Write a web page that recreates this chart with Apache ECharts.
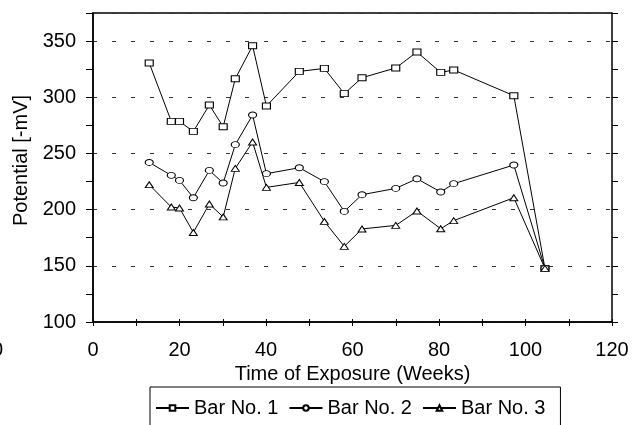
<!DOCTYPE html>
<html>
<head>
<meta charset="utf-8">
<script src="https://cdn.jsdelivr.net/npm/echarts@6/dist/echarts.min.js"></script>
<style>
html,body{margin:0;padding:0;background:#fff;}
#main{width:640px;height:425px;}
</style>
</head>
<body>
<div id="main"></div>
<script>
// weeks of exposure (shared by the three bars)
var weeks = [13.0, 18.1, 20.0, 23.2, 26.9, 30.1, 32.9, 36.9, 40.1, 47.7, 53.5, 58.1, 62.2, 70.0, 74.9, 80.4, 83.4, 97.3, 104.5];
var bar1 = [330.5, 278.5, 278.5, 269.6, 293.1, 273.8, 316.5, 345.9, 292.2, 323.0, 325.7, 303.2, 317.4, 326.1, 340.3, 322.1, 324.3, 301.4, 147.7];
var bar2 = [242.0, 230.5, 226.0, 210.6, 234.9, 223.7, 257.8, 284.2, 232.0, 237.3, 224.9, 198.4, 213.3, 218.9, 227.5, 215.7, 223.1, 239.7, 147.7];
var bar3 = [222.2, 202.3, 201.5, 179.7, 205.0, 193.5, 236.7, 260.2, 219.8, 224.2, 189.5, 167.3, 182.8, 186.0, 198.8, 183.0, 190.2, 210.6, 147.7];
var seriesNames = ['Bar No. 1', 'Bar No. 2', 'Bar No. 3'];
var seriesSymbols = ['rect', 'circle', 'triangle'];

var FONT = 'Arial, "Liberation Sans", sans-serif';
var gridLeft = 93, gridRight = 28, gridTop = 13, gridBottom = 103;
var plotW = 640 - gridLeft - gridRight;
var plotH = 425 - gridTop - gridBottom;

var chart = echarts.init(document.getElementById('main'));

function pairs(vals){
	var out = [];
	for (var i = 0; i < weeks.length; i++) {
		out.push([weeks[i], vals[i]]);
	}
	return out;
}

var allVals = [bar1, bar2, bar3];
var series = [];
for (var k = 0; k < 3; k++) {
	series.push({
		name: seriesNames[k],
		type: 'line',
		xAxisIndex: 0,
		yAxisIndex: 0,
		data: pairs(allVals[k]),
		symbol: seriesSymbols[k],
		symbolSize: [8, 6],
		showAllSymbol: true,
		itemStyle: {color: '#fff', borderColor: '#000', borderWidth: 1},
		lineStyle: {color: '#000', width: 1},
		emphasis: {disabled: true}
	});
}

var option = {
	animation: false,
	textStyle: {fontFamily: FONT},
	grid: {
		left: gridLeft, right: gridRight, top: gridTop, bottom: gridBottom,
		show: true, borderColor: '#000', borderWidth: 1.5
	},
	legend: {
		data: seriesNames,
		left: 150,
		top: 387,
		padding: [11, 15, 11, 5],
		borderColor: '#000',
		borderWidth: 1,
		itemWidth: 33,
		itemHeight: 7,
		itemGap: 10,
		textStyle: {fontSize: 20, color: '#000', fontFamily: FONT}
	},
	xAxis: [
		{
			type: 'value', min: 0, max: 120, interval: 10,
			name: 'Time of Exposure (Weeks)',
			nameLocation: 'middle',
			nameGap: 40,
			nameTextStyle: {fontSize: 20, color: '#000', fontFamily: FONT},
			axisLine: {show: true, lineStyle: {color: '#000', width: 1.5}},
			axisTick: {show: true, length: 4, lineStyle: {color: '#000'}},
			axisLabel: {
				fontSize: 20, color: '#000', margin: 18, fontFamily: FONT,
				formatter: function(v){ return v % 20 === 0 ? String(v) : ''; }
			},
			splitLine: {show: false}
		},
		{
			// inner half of the crossing ticks
			type: 'value', min: 0, max: 120, interval: 10,
			position: 'top', offset: -plotH,
			axisLine: {show: false},
			axisTick: {show: true, inside: false, length: 3, lineStyle: {color: '#000'}},
			axisLabel: {show: false},
			splitLine: {show: false}
		}
	],
	yAxis: [
		{
			type: 'value', min: 100, max: 375, interval: 25,
			position: 'left',
			name: 'Potential [-mV]',
			nameLocation: 'middle',
			nameGap: 57,
			nameTextStyle: {fontSize: 20, color: '#000', fontFamily: FONT, padding: [0, 0, 0, 14]},
			axisLine: {show: true, lineStyle: {color: '#000', width: 1.5}},
			axisTick: {show: true, length: 7, lineStyle: {color: '#000'}},
			axisLabel: {
				fontSize: 20, color: '#000', margin: 17, fontFamily: FONT,
				formatter: function(v){ return v % 50 === 0 ? String(v) : ''; }
			},
			splitLine: {show: false}
		},
		{
			type: 'value', min: 100, max: 375, interval: 25,
			position: 'right', offset: -plotW,
			axisLine: {show: false},
			axisTick: {show: true, inside: false, length: 6, lineStyle: {color: '#000'}},
			axisLabel: {show: false},
			splitLine: {show: false}
		},
		{
			// dashed grid lines every 50
			type: 'value', min: 100, max: 375, interval: 50,
			axisLine: {show: false},
			axisTick: {show: false},
			axisLabel: {show: false},
			splitLine: {show: true, lineStyle: {color: '#333', width: 1, type: [4, 15]}}
		}
	],
	graphic: [
		{type: 'text', x: -8, y: 340, style: {text: '0', fontSize: 20, fill: '#000', font: '20px ' + FONT}}
	],
	series: series
};
chart.setOption(option);
</script>
</body>
</html>
